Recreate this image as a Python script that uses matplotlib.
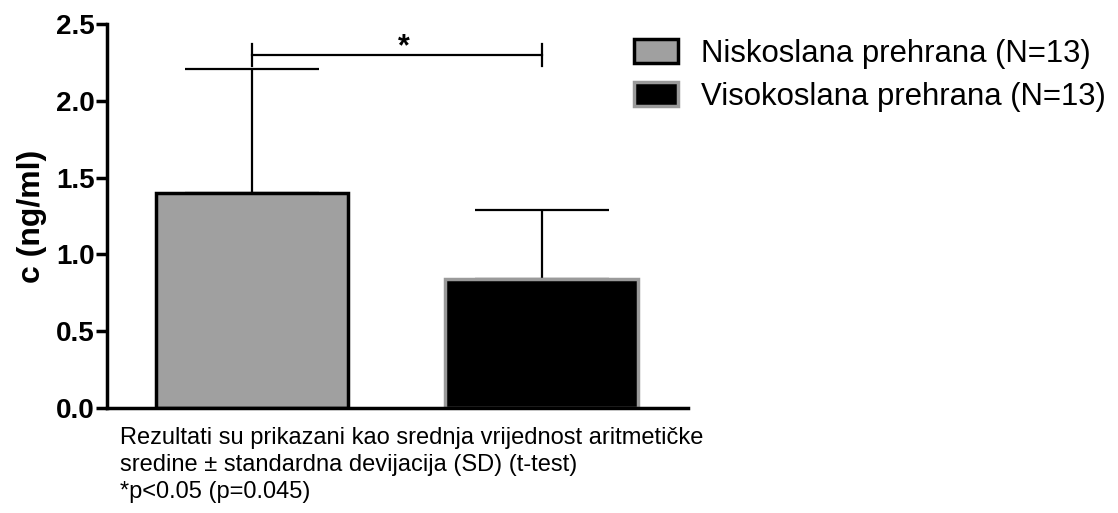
import matplotlib
matplotlib.use("Agg")
import matplotlib.pyplot as plt
from matplotlib.patches import Patch

plt.rcParams['font.family'] = ['Liberation Sans', 'DejaVu Sans']

groups = ['Niskoslana prehrana (N=13)', 'Visokoslana prehrana (N=13)']
means = [1.40, 0.84]
sds = [0.81, 0.45]
sig_level = 2.30
y_ticks = [0.0, 0.5, 1.0, 1.5, 2.0, 2.5]
note = ("Rezultati su prikazani kao srednja vrijednost aritmetičke\n"
        "sredine ± standardna devijacija (SD) (t-test)\n"
        "*p<0.05 (p=0.045)")

fig = plt.figure(figsize=(11.18, 5.13), dpi=100)
ax = fig.add_axes([0.0957, 0.2047, 0.5197, 0.7483])

faces = ['#a0a0a0', 'black']
edges = ['black', '#9a9a9a']
x = range(len(means))
for i in x:
    ax.bar(i, means[i], width=0.665, color=faces[i], edgecolor=edges[i],
           linewidth=2.5, zorder=2)
    ax.errorbar(i, means[i], yerr=[[0], [sds[i]]], fmt='none', ecolor='black',
                elinewidth=1.6, capsize=48, capthick=1.6, zorder=1)

# significance bracket
ax.plot([0, 1], [sig_level, sig_level], color='black', lw=1.6)
ax.plot([0, 0], [sig_level - 0.07, sig_level + 0.07], color='black', lw=1.6)
ax.plot([1, 1], [sig_level - 0.07, sig_level + 0.07], color='black', lw=1.6)
ax.text(0.525, sig_level - 0.05, '*', ha='center', va='bottom', fontsize=22, fontweight='bold')

ax.set_xlim(-0.5, 1.505)
ax.set_ylim(0, 2.5)
ax.set_yticks(y_ticks)
ax.set_yticklabels([f'{t:.1f}' for t in y_ticks], fontsize=20, fontweight='bold')
ax.set_xticks([])
ax.set_ylabel('c (ng/ml)', fontsize=23, fontweight='bold', labelpad=6)
for side in ['top', 'right']:
    ax.spines[side].set_visible(False)
for side in ['left', 'bottom']:
    ax.spines[side].set_linewidth(2.5)
ax.tick_params(axis='y', length=8, width=2.5, pad=1)

handles = [Patch(facecolor=faces[i], edgecolor=edges[i], linewidth=2.5) for i in x]
fig.legend(handles, groups, loc='upper left', bbox_to_anchor=(0.542, 0.979),
           frameon=False, fontsize=22.4, handlelength=1.42, handleheight=0.77,
           handletextpad=0.72, labelspacing=0.42)

fig.text(0.107, 0.168, note, ha='left', va='top', fontsize=17, linespacing=1.3)

fig.savefig('out.png', dpi=100, facecolor='white')
